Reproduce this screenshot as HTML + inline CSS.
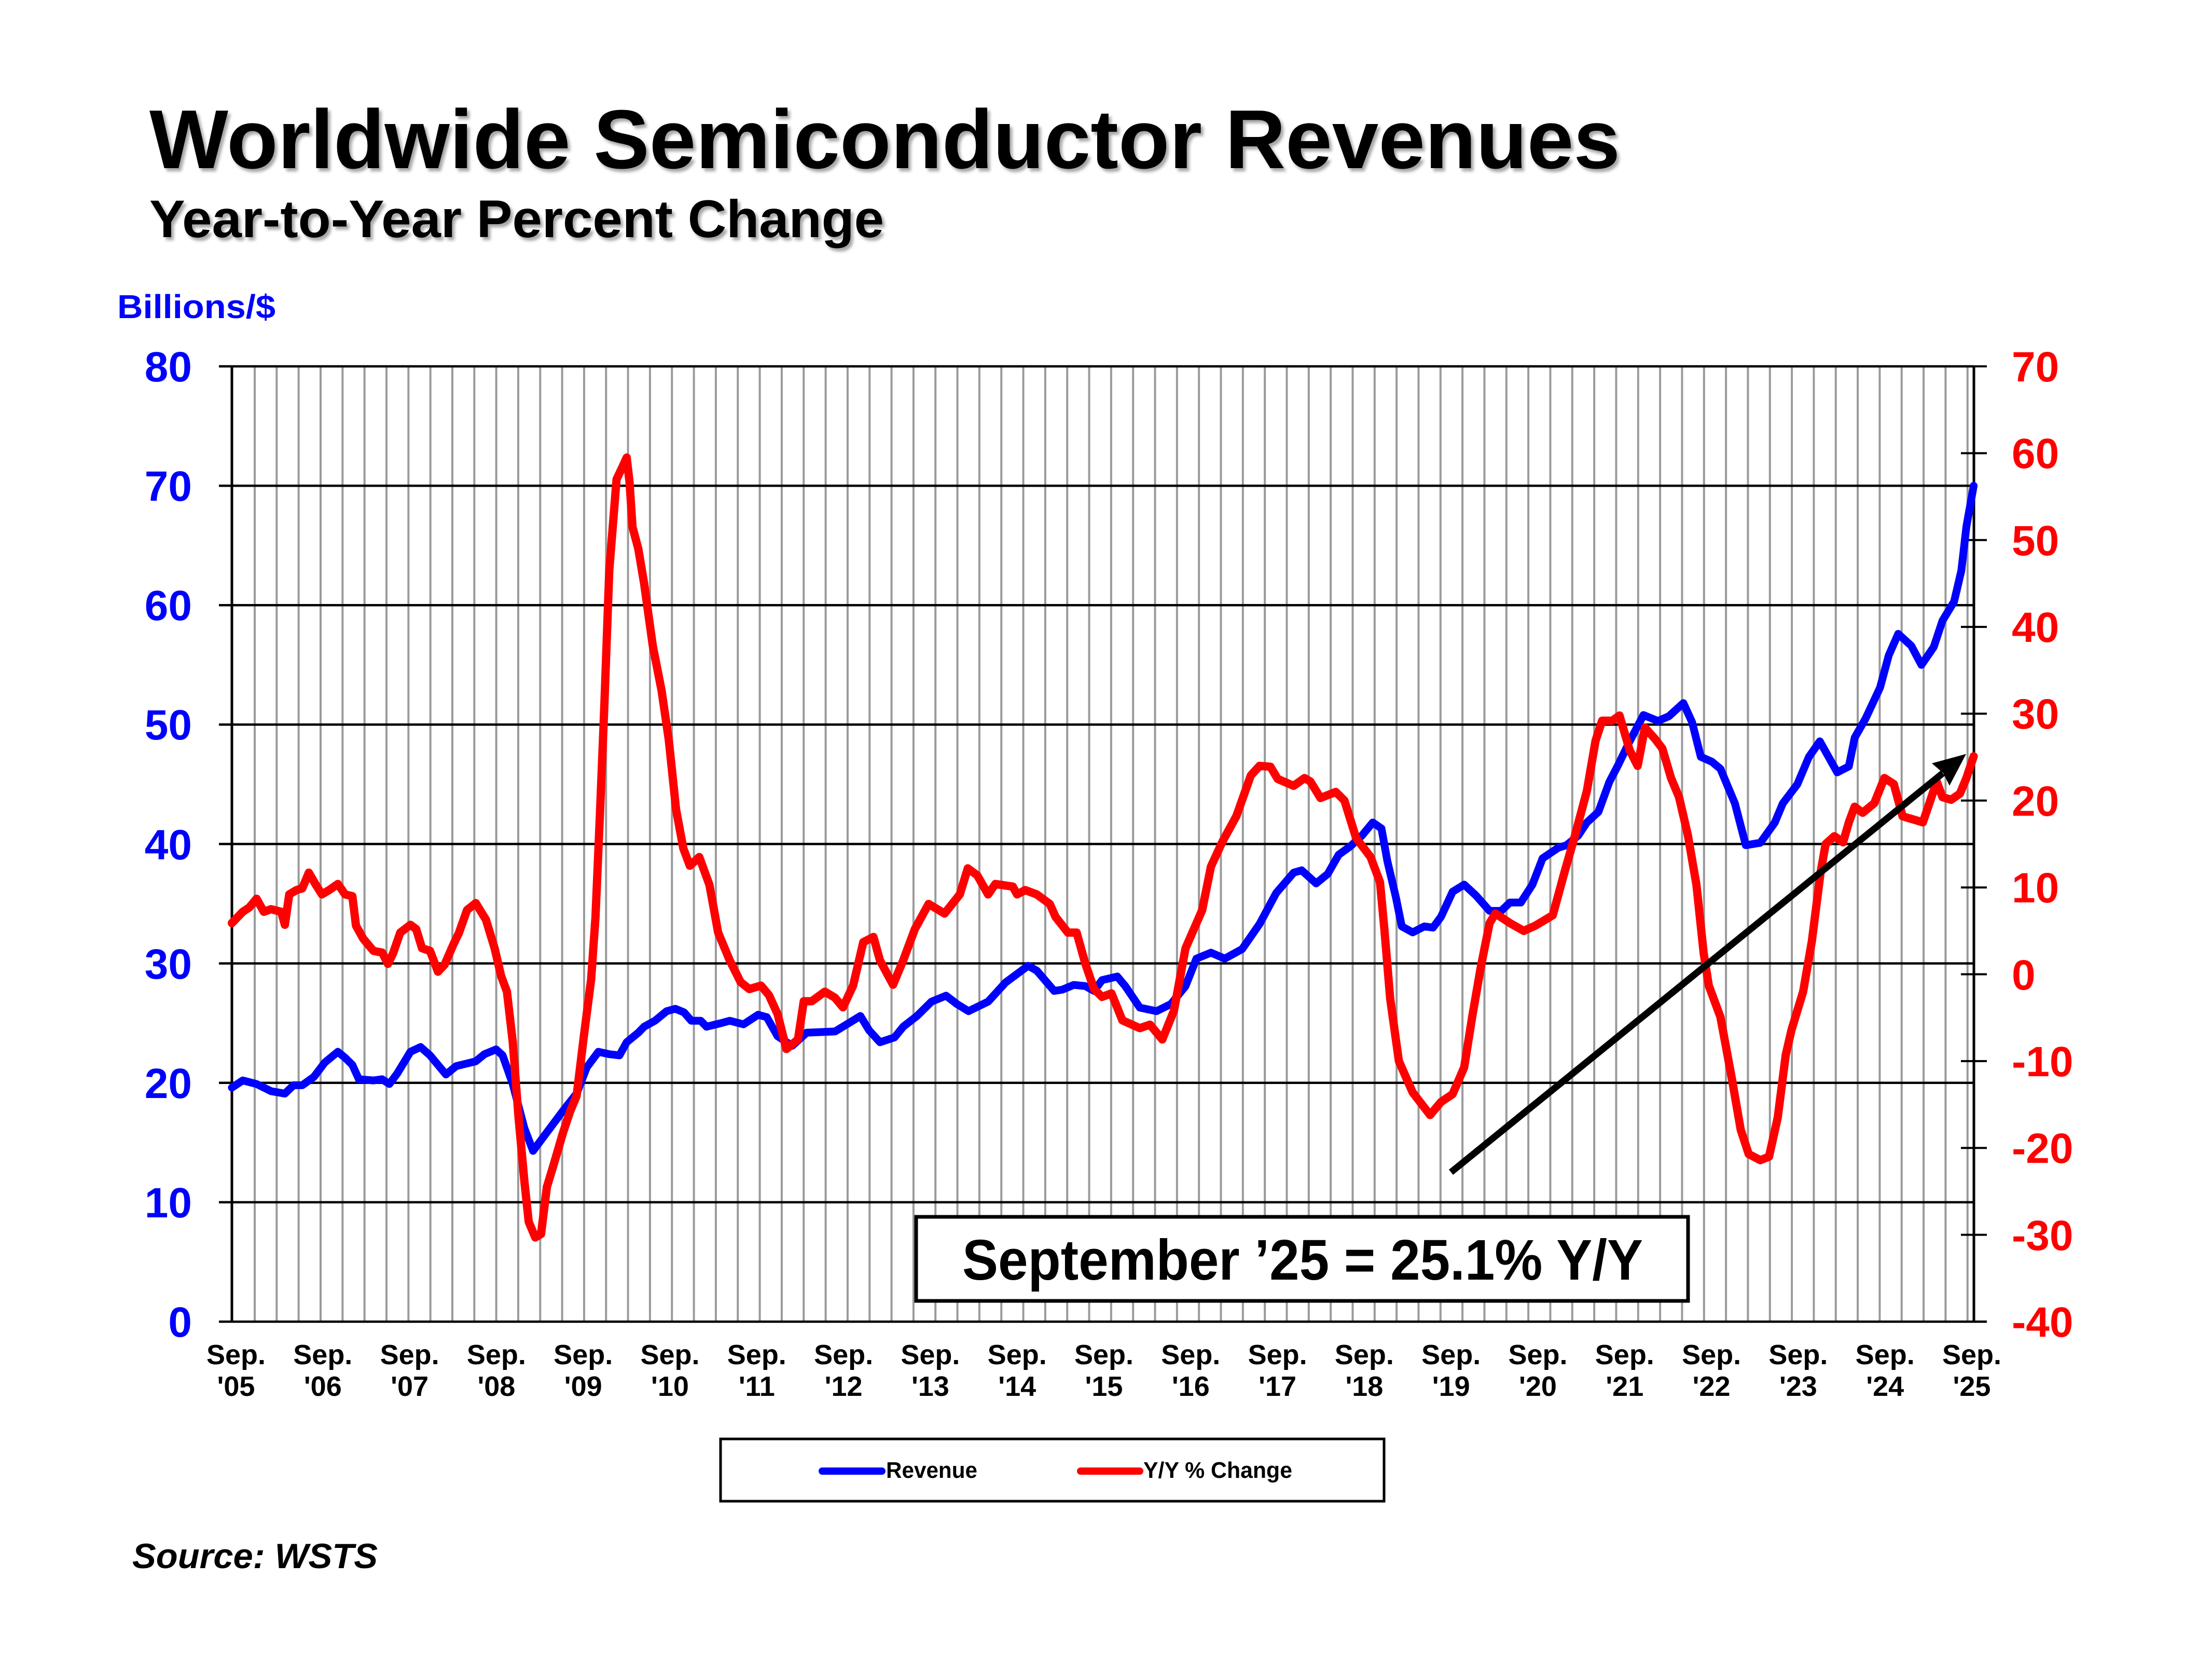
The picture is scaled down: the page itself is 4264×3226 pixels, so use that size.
<!DOCTYPE html>
<html>
<head>
<meta charset="utf-8">
<style>
html,body{margin:0;padding:0;background:#ffffff;}
svg{display:block;}
</style>
</head>
<body>
<svg xmlns="http://www.w3.org/2000/svg" width="4264" height="3226" viewBox="0 0 4264 3226" font-family="'Liberation Sans', Arial, sans-serif" font-weight="bold">
<defs>
<filter id="sh" x="-5%" y="-30%" width="110%" height="160%">
<feDropShadow dx="5" dy="6" stdDeviation="3" flood-color="#000" flood-opacity="0.35"/>
</filter>
</defs>
<rect x="0" y="0" width="4264" height="3226" fill="#ffffff"/>

<!-- Titles -->
<text x="288" y="324" font-size="161" fill="#000" textLength="2835" lengthAdjust="spacingAndGlyphs" filter="url(#sh)">Worldwide Semiconductor Revenues</text>
<text x="288" y="457" font-size="102" fill="#000" textLength="1416" lengthAdjust="spacingAndGlyphs" filter="url(#sh)">Year-to-Year Percent Change</text>
<text x="226" y="613" font-size="64" fill="#0000ff" textLength="305" lengthAdjust="spacingAndGlyphs">Billions/$</text>

<!-- Gray vertical gridlines -->
<path fill="none" stroke="#9a9a9a" stroke-width="4" d="M491 706V2547M533.33 706V2547M575.66 706V2547M617.99 706V2547M660.32 706V2547M702.65 706V2547M744.98 706V2547M787.31 706V2547M829.64 706V2547M871.97 706V2547M914.3 706V2547M956.63 706V2547M998.96 706V2547M1041.29 706V2547M1083.62 706V2547M1125.95 706V2547M1168.28 706V2547M1210.61 706V2547M1252.94 706V2547M1295.27 706V2547M1337.6 706V2547M1379.93 706V2547M1422.26 706V2547M1464.59 706V2547M1506.92 706V2547M1549.25 706V2547M1591.58 706V2547M1633.91 706V2547M1676.24 706V2547M1718.57 706V2547M1760.9 706V2547M1803.23 706V2547M1845.56 706V2547M1887.89 706V2547M1930.22 706V2547M1972.55 706V2547M2014.88 706V2547M2057.21 706V2547M2099.54 706V2547M2141.87 706V2547M2184.2 706V2547M2226.53 706V2547M2268.86 706V2547M2311.19 706V2547M2353.52 706V2547M2395.85 706V2547M2438.18 706V2547M2480.51 706V2547M2522.84 706V2547M2565.17 706V2547M2607.5 706V2547M2649.83 706V2547M2692.16 706V2547M2734.49 706V2547M2776.82 706V2547M2819.15 706V2547M2861.48 706V2547M2903.81 706V2547M2946.14 706V2547M2988.47 706V2547M3030.8 706V2547M3073.13 706V2547M3115.46 706V2547M3157.79 706V2547M3200.12 706V2547M3242.45 706V2547M3284.78 706V2547M3327.11 706V2547M3369.44 706V2547M3411.77 706V2547M3454.1 706V2547M3496.43 706V2547M3538.76 706V2547M3581.09 706V2547M3623.42 706V2547M3665.75 706V2547M3708.08 706V2547M3750.41 706V2547M3792.74 706V2547"/>

<!-- Black horizontal gridlines -->
<path fill="none" stroke="#000" stroke-width="4.5" d="M422 706H3805M422 936.1H3805M422 1166.3H3805M422 1396.4H3805M422 1626.5H3805M422 1856.6H3805M422 2086.8H3805M422 2316.9H3805M422 2547H3830"/>

<!-- Axes -->
<path fill="none" stroke="#000" stroke-width="5" d="M447 704V2549M3805 704V2549"/>
<!-- Right ticks -->
<path fill="none" stroke="#000" stroke-width="4" d="M3780 706H3830M3780 873.4H3830M3780 1040.7H3830M3780 1208.1H3830M3780 1375.4H3830M3780 1542.8H3830M3780 1710.2H3830M3780 1877.5H3830M3780 2044.9H3830M3780 2212.2H3830M3780 2379.6H3830M3780 2547H3830"/>

<!-- Left axis labels -->
<g font-size="82" fill="#0000ff" text-anchor="end">
<text x="370" y="735">80</text>
<text x="370" y="965">70</text>
<text x="370" y="1195">60</text>
<text x="370" y="1425">50</text>
<text x="370" y="1656">40</text>
<text x="370" y="1886">30</text>
<text x="370" y="2116">20</text>
<text x="370" y="2346">10</text>
<text x="370" y="2576">0</text>
</g>

<!-- Right axis labels -->
<g font-size="82" fill="#ff0000" text-anchor="start">
<text x="3878" y="735">70</text>
<text x="3878" y="902">60</text>
<text x="3878" y="1070">50</text>
<text x="3878" y="1237">40</text>
<text x="3878" y="1404">30</text>
<text x="3878" y="1572">20</text>
<text x="3878" y="1739">10</text>
<text x="3878" y="1907">0</text>
<text x="3878" y="2074">-10</text>
<text x="3878" y="2241">-20</text>
<text x="3878" y="2409">-30</text>
<text x="3878" y="2576">-40</text>
</g>

<!-- X labels -->
<g font-size="54" fill="#000" text-anchor="middle">
<text x="455" y="2629">Sep.</text><text x="455" y="2690">'05</text>
<text x="622.3" y="2629">Sep.</text><text x="622.3" y="2690">'06</text>
<text x="789.6" y="2629">Sep.</text><text x="789.6" y="2690">'07</text>
<text x="956.9" y="2629">Sep.</text><text x="956.9" y="2690">'08</text>
<text x="1124.2" y="2629">Sep.</text><text x="1124.2" y="2690">'09</text>
<text x="1291.5" y="2629">Sep.</text><text x="1291.5" y="2690">'10</text>
<text x="1458.8" y="2629">Sep.</text><text x="1458.8" y="2690">'11</text>
<text x="1626.1" y="2629">Sep.</text><text x="1626.1" y="2690">'12</text>
<text x="1793.4" y="2629">Sep.</text><text x="1793.4" y="2690">'13</text>
<text x="1960.7" y="2629">Sep.</text><text x="1960.7" y="2690">'14</text>
<text x="2128" y="2629">Sep.</text><text x="2128" y="2690">'15</text>
<text x="2295.3" y="2629">Sep.</text><text x="2295.3" y="2690">'16</text>
<text x="2462.6" y="2629">Sep.</text><text x="2462.6" y="2690">'17</text>
<text x="2629.9" y="2629">Sep.</text><text x="2629.9" y="2690">'18</text>
<text x="2797.2" y="2629">Sep.</text><text x="2797.2" y="2690">'19</text>
<text x="2964.5" y="2629">Sep.</text><text x="2964.5" y="2690">'20</text>
<text x="3131.8" y="2629">Sep.</text><text x="3131.8" y="2690">'21</text>
<text x="3299.1" y="2629">Sep.</text><text x="3299.1" y="2690">'22</text>
<text x="3466.4" y="2629">Sep.</text><text x="3466.4" y="2690">'23</text>
<text x="3633.7" y="2629">Sep.</text><text x="3633.7" y="2690">'24</text>
<text x="3801" y="2629">Sep.</text><text x="3801" y="2690">'25</text>
</g>

<!-- Annotation box -->
<rect x="1766" y="2345" width="1488" height="162" fill="#ffffff" stroke="#000" stroke-width="7"/>
<text x="1855" y="2466" font-size="110" fill="#000" textLength="1312" lengthAdjust="spacingAndGlyphs">September ’25 = 25.1% Y/Y</text>

<!-- Revenue (blue, left axis) -->
<polyline transform="translate(447 2547) scale(13.99 -23.0125)" fill="none" stroke="#0000ff" stroke-width="15" stroke-linejoin="round" stroke-linecap="round" vector-effect="non-scaling-stroke"
points="0,19.6 1.5,20.2 3.4,19.9 5.4,19.3 7.3,19.1 8.5,19.8 9.7,19.8 11.3,20.5 12.8,21.7 14.6,22.6 15.6,22.1 16.6,21.5 17.5,20.3 19.5,20.2 20.7,20.3 21.7,19.9 22.8,20.8 24.6,22.6 26,23 27.3,22.3 29.5,20.7 30.9,21.4 33.6,21.8 34.8,22.4 36.4,22.8 37.3,22.3 38.7,19.9 40.3,16.2 41.5,14.3 42.6,15.2 44.2,16.5 45.8,17.8 47.5,19.1 48.9,21.3 50.5,22.6 52,22.4 53.4,22.3 54.4,23.4 56,24.2 56.8,24.7 58.3,25.2 59.9,26 61.1,26.2 62.3,25.9 63.3,25.2 64.6,25.2 65.4,24.7 67.4,25 68.6,25.2 70.5,24.9 72.5,25.7 73.7,25.5 75.2,23.9 77.2,23.1 79.2,24.2 83.1,24.3 85,25 86.6,25.6 87.8,24.4 89.3,23.4 91.3,23.8 92.5,24.7 94.4,25.6 96.4,26.8 98.4,27.3 99.9,26.6 101.5,26 104.2,26.8 106.6,28.4 109.7,29.8 110.9,29.4 113.3,27.7 114.4,27.8 116,28.2 117.6,28.1 118.8,27.7 119.9,28.6 122,28.9 123.1,28.1 125.1,26.3 127.4,26 129.4,26.6 131.4,28.1 132.9,30.4 134.9,30.9 136.8,30.4 139.2,31.2 141.6,33.3 143.9,35.9 146.3,37.6 147.4,37.8 149.4,36.7 151,37.5 152.5,39.1 154.1,39.8 155.7,40.7 157.2,41.8 158.4,41.3 159.2,38.6 160.4,35.5 161.2,33.1 162.7,32.6 164.3,33.1 165.5,33 166.6,33.9 168.2,36 169.8,36.6 171.4,35.7 173.3,34.4 174.9,34.4 176.1,35.1 177.6,35.1 179.2,36.6 180.6,38.8 182.8,39.7 183.9,39.9 185.5,40.7 186.7,41.8 188.3,42.7 189.8,45.2 191,46.6 192.6,48.6 194.5,50.8 196.5,50.3 198,50.7 200,51.8 201.2,50.2 202.4,47.3 203.9,46.9 205.1,46.3 207.1,43.4 208.6,39.9 210.6,40.1 212.6,41.8 213.7,43.4 215.7,45 217.3,47.3 218.8,48.6 220,47.3 221.2,46 222.8,46.5 223.6,48.9 225.1,50.5 227.1,53.1 228.3,55.8 229.6,57.6 231.4,56.6 232.8,55 234.5,56.5 235.7,58.7 237.3,60.3 238.3,62.9 239,66.6 240,70"/>

<!-- Y/Y % change (red, right axis) -->
<polyline transform="translate(447 1877.6) scale(13.99 -16.736)" fill="none" stroke="#ff0000" stroke-width="16" stroke-linejoin="round" stroke-linecap="round" vector-effect="non-scaling-stroke"
points="0,5.9 1.5,7.2 2.4,7.7 3.4,8.7 4.4,7.2 5.4,7.5 6.8,7.2 7.3,5.7 7.9,9.2 8.9,9.7 9.7,9.9 10.6,11.7 11.5,10.4 12.4,9.2 13.4,9.7 14.6,10.4 15.6,9.2 16.6,9 17.1,5.6 18.1,4.1 19.5,2.7 20.7,2.5 21.5,1.2 22.2,2.4 23.2,4.8 24.6,5.7 25.4,5.2 26.2,3 27.3,2.7 28.4,0.3 29.3,1.1 30.5,3.4 31.3,4.8 32.4,7.4 33.6,8.2 35,6.3 36.2,3 37.1,-0.2 37.9,-2 38.7,-7.8 39.5,-16.5 40.3,-23.8 40.9,-28.5 41.8,-30.3 42.6,-29.9 43.4,-24.5 44.2,-22.3 45.6,-18.3 46.6,-15.8 47.5,-14 48.5,-7.1 49.5,-0.6 50.1,6.6 50.7,18.2 51.3,30.5 52,46.5 53,57 53.8,58.4 54.4,59.5 54.8,56.6 55.2,51.5 56,49 56.8,45 58,37.8 59.2,32.7 60.2,27 61.2,19 62.2,14.5 63.1,12.5 64.4,13.5 65.8,10.3 67,4.8 68.6,1.6 70.1,-0.9 71.3,-1.7 72.9,-1.3 74,-2.4 75.2,-4.6 76.4,-8.6 78,-7.5 78.8,-3.1 79.9,-3.1 81.7,-2 83.1,-2.7 84.2,-3.8 85.6,-1.3 87,3.7 88.4,4.3 89.3,1.6 91.1,-1.2 92.5,1.6 94.1,5.2 96,8.1 98.2,7 100.3,9.2 101.4,12.2 102.7,11.4 104.2,9.2 105.2,10.4 107.6,10.1 108.2,9.2 109.3,9.7 110.9,9.2 112.7,8.1 113.5,6.6 115.2,4.8 116.4,4.8 117.6,1.2 118.8,-1.7 119.9,-2.6 121.2,-2.2 122.7,-5.3 125.1,-6.2 126.5,-5.8 128.2,-7.5 129.8,-4.2 131.4,3 133.7,7.4 134.9,12.4 136.5,15.3 138.4,18.2 140.4,22.9 141.6,24 143.1,23.9 144.1,22.5 146.3,21.7 147.8,22.6 148.6,22.2 150,20.3 152.1,21 153.3,20 154.9,15.7 156.9,13.5 158.2,10.6 158.8,5.2 159.6,-2.8 160.8,-10 162.7,-13.6 165.1,-16.2 166.6,-14.7 168.2,-13.8 169.8,-10.7 170.9,-4.9 172.1,0.9 173.3,5.9 174.1,7 176.1,5.9 178,5 179.6,5.6 182,6.8 183.6,11.7 185.1,16.1 186.7,21.1 187.9,26.9 188.8,29.2 190.2,29.2 191.2,29.8 192.6,25.8 193.7,24 194.7,28.4 196.1,27.1 197.1,26 198.3,22.6 199.4,20.4 200.6,16.1 201.8,10.3 202.8,2.4 203.5,-1.3 205.1,-4.9 206.7,-12.1 207.9,-17.9 209,-20.7 210.6,-21.4 211.8,-21 213,-16.5 214.1,-9.3 214.9,-6.4 216.5,-2 217.7,3.8 218.9,11.7 219.6,15 220.8,15.9 222,15.2 222.8,17.5 223.6,19.3 224.7,18.6 226.3,19.7 227.7,22.6 229,21.9 230.2,18.2 231.4,17.9 233,17.5 233.9,19.7 234.9,22.2 235.7,20.4 236.9,20.1 238.1,20.8 239,22.6 240,25.1"/>

<!-- Trend arrow -->
<line x1="2797" y1="2259" x2="3745" y2="1490" stroke="#000" stroke-width="13"/>
<polygon points="3790,1453 3758,1514 3746,1490 3724,1471" fill="#000"/>

<!-- Legend -->
<rect x="1389" y="2773" width="1279" height="120" fill="#ffffff" stroke="#000" stroke-width="5"/>
<line x1="1585" y1="2835" x2="1700" y2="2835" stroke="#0000ff" stroke-width="14" stroke-linecap="round"/>
<text x="1708" y="2848" font-size="44" fill="#000" textLength="176" lengthAdjust="spacingAndGlyphs">Revenue</text>
<line x1="2083" y1="2835" x2="2197" y2="2835" stroke="#ff0000" stroke-width="14" stroke-linecap="round"/>
<text x="2204" y="2848" font-size="44" fill="#000" textLength="287" lengthAdjust="spacingAndGlyphs">Y/Y % Change</text>

<!-- Source -->
<text x="255" y="3022" font-size="68" font-style="italic" fill="#000" textLength="473" lengthAdjust="spacingAndGlyphs">Source: WSTS</text>
</svg>
</body>
</html>
